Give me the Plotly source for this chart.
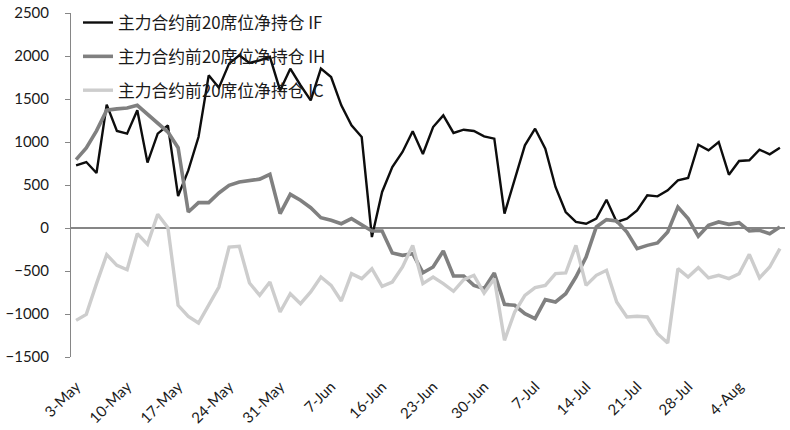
import pandas as pd
import plotly.graph_objects as go

# Trading days (2016), Dragon Boat holiday removed
holidays = ["2016-06-09", "2016-06-10"]
days = [d for d in pd.bdate_range("2016-05-03", "2016-08-10") if d.strftime("%Y-%m-%d") not in holidays]
categories = [f"{d.day}-{d.strftime('%b')}" for d in days]
tick_labels = categories[::5]

if_values = [729, 767, 640, 1434, 1128, 1097, 1368, 760, 1097, 1194,
             372, 670, 1058, 1775, 1632, 1911, 2008, 1920, 1950, 1990,
             1600, 1853, 1660, 1484, 1853, 1756, 1426, 1194, 1058, -105,
             419, 709, 884, 1124, 860, 1174, 1310, 1105, 1143, 1128,
             1066, 1039, 167, 554, 961, 1155, 922, 477, 186, 70,
             50, 109, 329, 70, 109, 205, 380, 368, 438, 554,
             581, 969, 903, 1000, 620, 779, 787, 911, 857, 934]
ih_values = [795, 930, 1130, 1370, 1385, 1395, 1427, 1320, 1213, 1116,
             934, 186, 295, 295, 407, 497, 535, 547, 568, 624,
             167, 391, 322, 236, 120, 89, 50, 109, 31, -35,
             -35, -291, -318, -298, -520, -453, -267, -558, -558, -667,
             -705, -523, -888, -899, -996, -1054, -833, -860, -764, -570,
             -337, 12, 97, 81, -47, -240, -202, -174, -47, 244,
             109, -97, 31, 70, 43, 62, -35, -27, -66, 12]
ic_values = [-1074, -1004, -647, -310, -434, -485, -66, -190, 159, 4,
             -899, -1027, -1105, -899, -686, -221, -213, -640, -783, -628,
             -977, -764, -880, -744, -570, -667, -849, -531, -589, -473,
             -678, -628, -453, -202, -647, -570, -647, -736, -601, -550,
             -756, -589, -1306, -977, -783, -694, -667, -531, -523, -202,
             -667, -550, -492, -860, -1035, -1027, -1035, -1229, -1337, -473,
             -570, -461, -581, -550, -589, -531, -306, -581, -453, -240]

series_names = ["主力合约前20席位净持仓 IF", "主力合约前20席位净持仓 IH", "主力合约前20席位净持仓 IC"]

fig = go.Figure()
styles = [("#0d0d0d", 2.4), ("#808080", 3.6), ("#cdcdcd", 3.4)]
for i, (name, vals) in enumerate(zip(series_names, [if_values, ih_values, ic_values])):
    color, width = styles[i]
    fig.add_trace(go.Scatter(
        x=categories, y=vals, mode="lines", name=name,
        line=dict(color=color, width=width),
        legendgroup=f"g{i}", legendrank=i + 1,
    ))

yaxis_font = dict(family="Lato, 'Open Sans', sans-serif", size=15, color="#1a1a1a")
xaxis_font = dict(family="Lato, 'Open Sans', sans-serif", size=15, color="#1a1a1a")

fig.update_layout(
    width=790, height=430,
    margin=dict(l=71, r=5, t=13, b=73),
    paper_bgcolor="white", plot_bgcolor="white",
    showlegend=True,
    legend=dict(
        x=0.0098, y=1.023, xanchor="left", yanchor="top",
        font=dict(family="'Noto Sans CJK SC', sans-serif", size=16.8, color="#1a1a1a"),
        bgcolor="rgba(0,0,0,0)", tracegroupgap=9,
        traceorder="grouped",
    ),
    xaxis=dict(
        type="category", range=[-0.5, len(categories) - 0.5],
        showline=False, showgrid=False, zeroline=False,
        ticks="", tickangle=-45, automargin=False,
        tickmode="array", tickvals=tick_labels, ticktext=tick_labels,
        tickfont=xaxis_font, ticklabelstandoff=17, ticklabelshift=0,
    ),
    yaxis=dict(
        range=[-1500, 2500], dtick=500, tick0=0, automargin=False,
        showgrid=False, showline=True, linecolor="#868686", linewidth=1,
        ticks="outside", ticklen=5, tickcolor="#868686",
        zeroline=True, zerolinecolor="#868686", zerolinewidth=1.5,
        tickfont=yaxis_font, ticklabelstandoff=13,
    ),
)

fig.write_html("out.html")
